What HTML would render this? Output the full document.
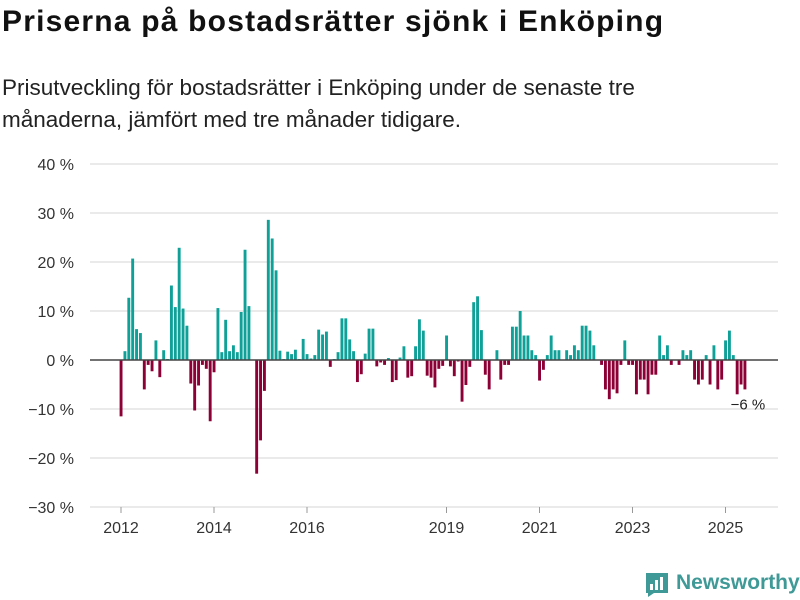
<!DOCTYPE html>
<html><head><meta charset="utf-8"><style>
body{margin:0;width:800px;height:600px;background:#fff;font-family:"Liberation Sans","DejaVu Sans",sans-serif;overflow:hidden;position:relative}
#title{position:absolute;left:2px;top:5px;font-size:30px;font-weight:bold;color:#111;margin:0;letter-spacing:1.2px}
#sub{position:absolute;left:2px;top:72px;font-size:22.5px;line-height:32px;color:#222;width:700px}
svg{position:absolute;left:0;top:0}
</style></head><body>
<h1 id="title">Priserna på bostadsrätter sjönk i Enköping</h1>
<div id="sub">Prisutveckling för bostadsrätter i Enköping under de senaste tre månaderna, jämfört med tre månader tidigare.</div>
<svg id="chart" width="800" height="600"></svg>
<script>
const yTicks=[40,30,20,10,0,-10,-20,-30];
const xYears=[2012,2014,2016,2019,2021,2023,2025];
const values=[
-11.5,1.8,12.7,20.7,6.3,5.5,-6,-1,-2.3,4,-3.5,2,
0.2,15.2,10.8,22.9,10.5,7,-4.8,-10.3,-5.2,-1,-1.8,-12.5,
-2.5,10.6,1.6,8.2,1.8,3,1.6,9.8,22.5,11,0,-23.2,
-16.4,-6.3,28.6,24.8,18.3,1.9,0.2,1.7,1.2,2.1,0.2,4.3,
1.2,0.3,1,6.2,5.2,5.8,-1.4,0.2,1.6,8.5,8.5,4.2,
1.8,-4.5,-2.9,1.3,6.4,6.4,-1.3,-0.5,-1,0.4,-4.5,-4.1,
0.5,2.8,-3.6,-3.3,2.8,8.3,6,-3.2,-3.6,-5.6,-1.8,-1.2,
5,-1.3,-3.3,-0.3,-8.5,-5.1,-1.4,11.8,13,6.1,-3,-6,
0,2,-4,-1,-1,6.8,6.8,10,5,5,2,1,
-4.2,-2,1,5,2,2,0,2,1,3,2,7,
7,6,3,0,-1,-6,-8,-6,-6.8,-1,4,-1,
-1,-7,-4,-4,-7,-3,-3,5,1,3,-1,0,
-1,2,1,2,-4,-5,-4,1,-5,3,-6,-4,
4,6,1,-7,-5,-6];
const lastLabel="−6 %";
const NS="http://www.w3.org/2000/svg";
const svg=document.getElementById('chart');
const y=v=>360-v*4.9;
const x=i=>121+i*3.875;
const xYear=yr=>121+(yr-2012)*46.5;
function mk(t,a){const e=document.createElementNS(NS,t);for(const k in a)e.setAttribute(k,a[k]);svg.appendChild(e);return e;}
yTicks.forEach(t=>{
 if(t!==0){const g=mk('line',{x1:90,x2:778,y1:y(t),y2:y(t),stroke:'#ddd','stroke-width':1.2});
 
 }
 const l=mk('text',{x:74,y:y(t)+6,'text-anchor':'end','font-size':16,fill:'#333'});
 l.textContent=(t<0?'−'+(-t):t)+' %';
 
 
});
values.forEach((v,i)=>{
 const r=mk('rect',{x:x(i)-1.4,width:2.9,y:Math.min(y(v),360),height:Math.abs(y(v)-360),fill:v>=0?'#0fa197':'#8c0036'});
 
 
});
const z=mk('line',{x1:90,x2:778,y1:360,y2:360,stroke:'#444','stroke-width':1.6});


xYears.forEach(yr=>{
 const tk=mk('line',{x1:xYear(yr),x2:xYear(yr),y1:507,y2:513,stroke:'#999'});
 
 
 const l=mk('text',{x:xYear(yr),y:533,'text-anchor':'middle','font-size':16,fill:'#333'});
 l.textContent=yr;
 
 
});
const li=values.length-1;
const ll=mk('text',{x:x(li)+3,y:y(values[li])+20,'text-anchor':'middle','font-size':15,fill:'#222'});
ll.textContent=lastLabel;


</script>
<div style="position:absolute;left:644px;top:569px;display:flex;align-items:center">
<svg width="26" height="28" style="position:static"><path d="M2 4 H24 V24 H10 L4 28 V24 H2 Z" fill="#3f9a97"/><rect x="6" y="15" width="3" height="6" fill="#fff"/><rect x="11" y="11" width="3" height="10" fill="#fff"/><rect x="16" y="8" width="3" height="13" fill="#fff"/></svg>
<span style="font-size:21px;font-weight:bold;color:#3f9a97;margin-left:6px">Newsworthy</span></div>
</body></html>
